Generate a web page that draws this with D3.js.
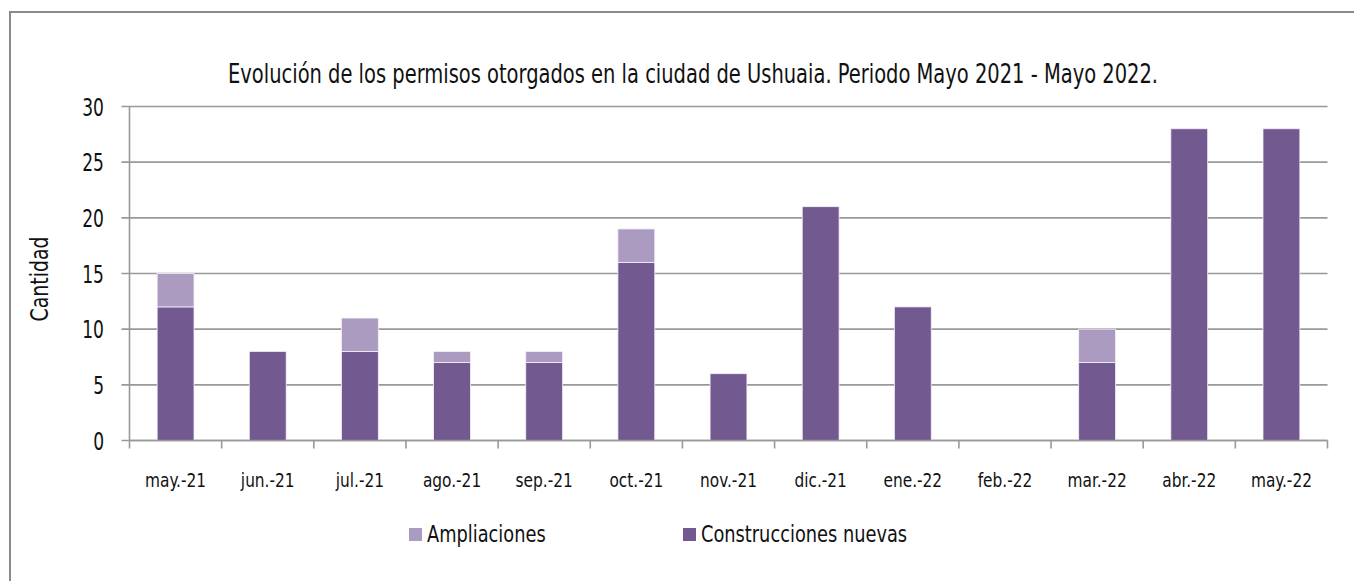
<!DOCTYPE html>
<html>
<head>
<meta charset="utf-8">
<script src="https://cdn.jsdelivr.net/npm/d3@7"></script>
<style>
  body { margin: 0; background: #fff; }
  svg { display: block; font-family: "DejaVu Sans Condensed", "DejaVu Sans", sans-serif; }
</style>
</head>
<body>
<svg id="chart" width="1354" height="581"></svg>
<script>
// Permisos otorgados en Ushuaia, mayo 2021 - mayo 2022
const months = ['may.-21', 'jun.-21', 'jul.-21', 'ago.-21', 'sep.-21', 'oct.-21', 'nov.-21',
  'dic.-21', 'ene.-22', 'feb.-22', 'mar.-22', 'abr.-22', 'may.-22'];
const construcciones = [12, 8, 8, 7, 7, 16, 6, 21, 12, 0, 7, 28, 28];
const ampliaciones = [3, 0, 3, 1, 1, 3, 0, 0, 0, 0, 3, 0, 0];
const yTicks = [0, 5, 10, 15, 20, 25, 30];

const colors = { construcciones: '#725990', ampliaciones: '#ab9bc0' };
const gridColor = '#999999';
const textColor = '#111';

const svg = d3.select('#chart');

// narrow font look: squeeze text horizontally around its anchor
function place(sel, px, py, sx) {
  sel.attr('x', 0).attr('y', 0)
    .attr('transform', (d, i) => {
      const X = typeof px === 'function' ? px(d, i) : px;
      const Y = typeof py === 'function' ? py(d, i) : py;
      return `translate(${X},${Y}) scale(${sx},1)`;
    });
  return sel;
}

// outer frame (right/bottom edges fall outside the picture)
svg.append('rect')
  .attr('x', 10).attr('y', 12)
  .attr('width', 1400).attr('height', 600)
  .attr('fill', 'none')
  .attr('stroke', '#8a8a8a')
  .attr('stroke-width', 2);

const plotLeft = 129.5, plotRight = 1327.5, plotTop = 106.5, plotBottom = 440.5;

const x = d3.scaleBand()
  .domain(months)
  .range([plotLeft, plotRight])
  .paddingInner(0.6)
  .paddingOuter(0.3);

const y = d3.scaleLinear()
  .domain([0, 30])
  .range([plotBottom, plotTop]);

// title
svg.append('text')
  .attr('x', 693).attr('y', 83)
  .attr('text-anchor', 'middle')
  .attr('font-size', 26)
  .attr('textLength', 930)
  .attr('lengthAdjust', 'spacingAndGlyphs')
  .attr('fill', textColor)
  .text('Evolución de los permisos otorgados en la ciudad de Ushuaia. Periodo Mayo 2021 - Mayo 2022.');

// gridlines + y labels
const yAxis = svg.append('g');
yAxis.selectAll('line')
  .data(yTicks)
  .join('line')
  .attr('x1', plotLeft - 8).attr('x2', plotRight)
  .attr('y1', d => y(d))
  .attr('y2', d => y(d))
  .attr('stroke', gridColor)
  .attr('stroke-width', 1.6);

place(yAxis.selectAll('text')
  .data(yTicks)
  .join('text')
  .attr('dy', '0.36em')
  .attr('text-anchor', 'end')
  .attr('font-size', 25)
  .attr('fill', textColor)
  .text(d => d), 104, d => y(d), 0.76);

// y axis line
svg.append('line')
  .attr('x1', plotLeft).attr('x2', plotLeft)
  .attr('y1', plotTop).attr('y2', plotBottom)
  .attr('stroke', gridColor)
  .attr('stroke-width', 1.6);

// y axis title
svg.append('text')
  .attr('transform', `translate(48, 279) rotate(-90)`)
  .attr('text-anchor', 'middle')
  .attr('font-size', 25)
  .attr('textLength', 85)
  .attr('lengthAdjust', 'spacingAndGlyphs')
  .attr('fill', textColor)
  .text('Cantidad');

// stacked bars
const stackData = months.map((m, i) => ({
  month: m,
  construcciones: construcciones[i],
  ampliaciones: ampliaciones[i]
}));
const series = d3.stack().keys(['construcciones', 'ampliaciones'])(stackData);

svg.append('g')
  .selectAll('g')
  .data(series)
  .join('g')
  .attr('fill', d => colors[d.key])
  .selectAll('rect')
  .data(d => d.filter(v => v[1] > v[0]))
  .join('rect')
  .attr('x', d => x(d.data.month))
  .attr('y', d => y(d[1]))
  .attr('width', x.bandwidth())
  .attr('height', d => y(d[0]) - y(d[1]))
  .attr('stroke', '#f4f0f8')
  .attr('stroke-width', 0.8);

// x axis baseline and category ticks
const step = (plotRight - plotLeft) / months.length;
const xAxis = svg.append('g');
xAxis.append('line')
  .attr('x1', plotLeft).attr('x2', plotRight)
  .attr('y1', plotBottom).attr('y2', plotBottom)
  .attr('stroke', gridColor)
  .attr('stroke-width', 1.6);
xAxis.selectAll('line.tick')
  .data(d3.range(months.length + 1))
  .join('line')
  .attr('class', 'tick')
  .attr('x1', i => plotLeft + i * step)
  .attr('x2', i => plotLeft + i * step)
  .attr('y1', plotBottom).attr('y2', plotBottom + 8)
  .attr('stroke', gridColor)
  .attr('stroke-width', 1.6);
place(xAxis.selectAll('text')
  .data(months)
  .join('text')
  .attr('text-anchor', 'middle')
  .attr('font-size', 19)
  .attr('fill', textColor)
  .text(d => d), d => x(d) + x.bandwidth() / 2, 487, 0.9);

// legend
const legendItems = [
  { label: 'Ampliaciones', key: 'ampliaciones', x: 409 },
  { label: 'Construcciones nuevas', key: 'construcciones', x: 683 }
];
const legend = svg.append('g');
legend.selectAll('rect')
  .data(legendItems)
  .join('rect')
  .attr('x', d => d.x).attr('y', 528)
  .attr('width', 13).attr('height', 13)
  .attr('fill', d => colors[d.key]);
place(legend.selectAll('text')
  .data(legendItems)
  .join('text')
  .attr('font-size', 23)
  .attr('fill', textColor)
  .text(d => d.label), d => d.x + 18, 542, 0.86);
</script>
</body>
</html>
